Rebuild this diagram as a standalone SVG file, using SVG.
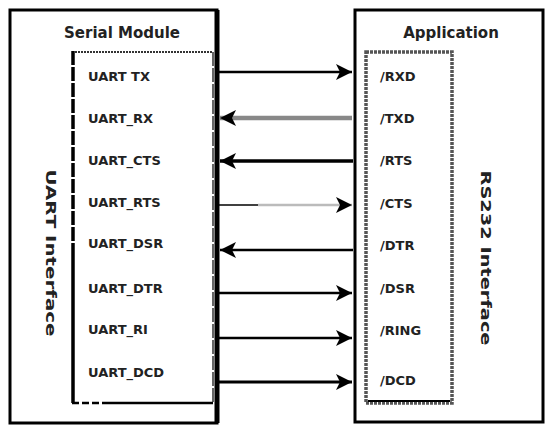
<svg xmlns="http://www.w3.org/2000/svg" width="545" height="427" viewBox="0 0 545 427">
<style>
.t{font-family:"DejaVu Sans","Liberation Sans",sans-serif;font-weight:bold;font-size:13px;fill:#222}
.h{font-family:"DejaVu Sans","Liberation Sans",sans-serif;font-weight:bold;font-size:15px;fill:#222;text-anchor:middle}
.v{font-family:"DejaVu Sans","Liberation Sans",sans-serif;font-weight:bold;font-size:14px;fill:#222;text-anchor:middle}
.blk{stroke:#000;fill:none}
</style>
<defs>
<marker id="ah" viewBox="0 0 16 16" refX="16" refY="8" markerWidth="16" markerHeight="16" markerUnits="userSpaceOnUse" orient="auto">
<path d="M0,0 L16,8 L0,16 L4,8 Z" fill="#000"/>
</marker>
</defs>
<rect width="545" height="427" fill="#fff"/>
<g id="serial-module">
<rect x="10" y="10" width="207" height="413" class="blk" stroke-width="3"/>
<line x1="217" y1="10" x2="217" y2="423" stroke="#000" stroke-width="5"/>
<text class="h" x="122" y="38">Serial Module</text>
<g id="uart-pins">
<line x1="72" y1="52" x2="213" y2="52" stroke="#333" stroke-width="2" stroke-dasharray="2 1"/>
<line x1="213" y1="52" x2="213" y2="403" stroke="#333" stroke-width="1.5" stroke-dasharray="14 2"/>
<line x1="73" y1="51" x2="73" y2="250" stroke="#000" stroke-width="3.5" stroke-dasharray="14 2"/>
<line x1="73" y1="250" x2="73" y2="403" stroke="#000" stroke-width="3.5"/>
<line x1="72" y1="403" x2="108" y2="403" stroke="#000" stroke-width="2.5" stroke-dasharray="7 3"/>
<line x1="108" y1="403" x2="213" y2="403" stroke="#000" stroke-width="2.5"/>
<text class="t" x="88" y="81">UART TX</text>
<text class="t" x="88" y="123">UART_RX</text>
<text class="t" x="88" y="165">UART_CTS</text>
<text class="t" x="88" y="207">UART_RTS</text>
<text class="t" x="88" y="248">UART_DSR</text>
<text class="t" x="88" y="293">UART_DTR</text>
<text class="t" x="88" y="334">UART_RI</text>
<text class="t" x="88" y="377">UART_DCD</text>
</g>
<text class="v" transform="translate(46,253) rotate(90)" textLength="167" lengthAdjust="spacingAndGlyphs">UART Interface</text>
</g>
<g id="application">
<rect x="355" y="10" width="188" height="412" class="blk" stroke-width="3"/>
<text class="h" x="451" y="38">Application</text>
<g id="rs232-pins">
<rect x="366" y="52" width="86" height="351" fill="none" stroke="#555" stroke-width="3.5" stroke-dasharray="3 1"/>
<line x1="368" y1="401" x2="450" y2="401" stroke="#000" stroke-width="2"/>
<text class="t" x="380" y="81">/RXD</text>
<text class="t" x="380" y="123">/TXD</text>
<text class="t" x="380" y="165">/RTS</text>
<text class="t" x="380" y="208">/CTS</text>
<text class="t" x="380" y="250">/DTR</text>
<text class="t" x="380" y="293">/DSR</text>
<text class="t" x="380" y="335">/RING</text>
<text class="t" x="380" y="385">/DCD</text>
</g>
<text class="v" transform="translate(481,258) rotate(90)" textLength="175" lengthAdjust="spacingAndGlyphs">RS232 Interface</text>
</g>
<g id="connectors">
<line x1="219" y1="72" x2="352" y2="72" stroke="#000" stroke-width="2.5" marker-end="url(#ah)"/>
<line x1="352" y1="118" x2="220" y2="118" stroke="#888" stroke-width="4.5" marker-end="url(#ah)"/>
<line x1="353" y1="161" x2="220" y2="161" stroke="#000" stroke-width="3.5" marker-end="url(#ah)"/>
<line x1="219" y1="205" x2="258" y2="205" stroke="#000" stroke-width="1.5"/>
<line x1="258" y1="205" x2="352" y2="205" stroke="#bbb" stroke-width="2.5" marker-end="url(#ah)"/>
<line x1="353" y1="250" x2="220" y2="250" stroke="#000" stroke-width="2.5" marker-end="url(#ah)"/>
<line x1="219" y1="293" x2="352" y2="293" stroke="#000" stroke-width="2.5" marker-end="url(#ah)"/>
<line x1="219" y1="338" x2="352" y2="338" stroke="#000" stroke-width="2.5" marker-end="url(#ah)"/>
<line x1="219" y1="382" x2="352" y2="382" stroke="#000" stroke-width="3" marker-end="url(#ah)"/>
</g>
</svg>
